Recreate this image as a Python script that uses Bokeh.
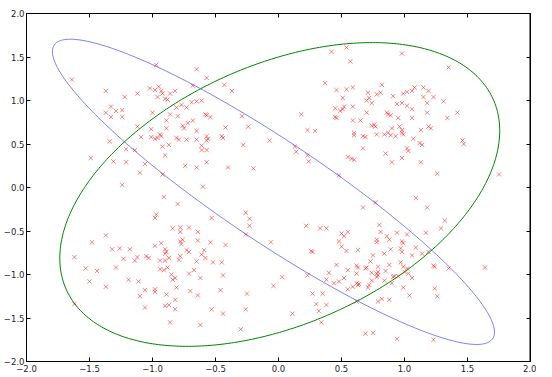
import numpy as np
from bokeh.plotting import figure
from bokeh.models import LinearAxis, FixedTicker, CustomJSTickFormatter, Range1d, Span
from bokeh.embed import file_html
from bokeh.resources import INLINE

# ---- data ----
# upper-left cluster
ul_x = [-1.64,-0.97,-0.65,-1.37,-1.22,-1.12,-1.02,-0.98,-0.95,-0.93,-0.92,-0.96,-0.90,-0.88,-0.86,-0.82,-0.68,
        -1.33,-1.29,-1.24,-1.37,-1.33,-1.24,-1.00,-0.86,-0.81,-0.77,-0.73,-0.69,-0.65,-0.89,-0.80,-0.72,-0.68,-0.76,-0.75,
        -1.12,-1.01,-0.94,-0.93,-0.96,-0.98,-1.01,-0.89,-1.09,-0.81,-0.79,-0.73,-0.65,-0.65,-1.34,-0.92,-0.87,-1.21,-1.14,
        -0.90,-1.49,-1.31,-1.21,-1.06,-0.74,-0.65,-1.10,-0.92,
        -0.57,-0.43,-0.37,-0.61,-0.58,-0.57,-0.54,-0.29,-0.42,-0.24,-0.57,-0.56,-0.57,-0.45,-0.44,-0.07,-0.28,-0.61,-0.61,
        -0.57,-0.57,-0.40,-0.20]
ul_y = [1.24,1.41,1.36,1.11,1.04,1.08,1.14,1.12,1.16,1.11,1.08,1.04,1.02,1.01,1.08,1.11,1.17,
        0.93,0.88,0.89,0.86,0.81,0.81,0.86,0.84,0.92,0.95,0.92,0.98,0.99,0.77,0.82,0.74,0.77,0.71,0.68,
        0.70,0.67,0.61,0.59,0.57,0.56,0.58,0.68,0.58,0.57,0.55,0.55,0.65,0.55,0.53,0.47,0.49,0.44,0.43,
        0.37,0.34,0.30,0.29,0.27,0.25,0.23,0.17,0.15,
        1.26,1.18,1.11,1.00,0.84,0.83,0.81,0.82,0.69,0.70,0.59,0.56,0.54,0.59,0.57,0.54,0.49,0.48,0.43,
        0.43,0.29,0.23,0.22]
# upper-right cluster
ur_x = [0.18,0.23,0.29,0.37,0.42,0.13,0.14,0.23,0.24,
        0.54,0.57,0.98,1.35,0.46,0.54,0.59,0.51,0.82,0.81,0.78,0.71,0.70,0.72,0.74,0.91,0.99,1.02,1.06,1.08,1.15,1.19,
        1.15,1.23,1.31,0.94,0.98,1.02,1.18,0.45,0.49,0.51,0.52,0.59,0.45,0.46,0.70,0.86,0.87,0.89,0.95,1.06,1.06,1.18,
        1.34,1.42,0.59,0.65,0.74,0.76,0.77,0.90,0.96,0.98,0.99,0.98,1.19,1.21,1.13,0.60,0.60,0.67,0.69,0.78,0.84,0.87,
        0.89,0.93,1.07,1.12,1.14,1.46,1.47,0.67,1.02,1.03,0.85,0.55,0.58,0.60,0.98,0.90,1.13,0.48,1.26,1.75]
ur_y = [0.84,0.66,0.65,1.20,1.56,0.47,0.41,0.37,0.30,
        1.61,1.45,1.54,1.38,1.12,1.13,1.15,1.03,1.18,1.09,1.07,1.09,1.00,1.03,0.97,1.05,1.08,1.10,1.11,1.15,1.15,1.11,
        1.04,1.04,0.99,0.96,0.97,0.94,0.97,0.91,0.88,0.90,0.93,0.93,0.81,0.80,0.86,0.86,0.84,0.83,0.80,0.90,0.80,0.86,
        0.80,0.86,0.77,0.77,0.71,0.72,0.70,0.68,0.70,0.66,0.61,0.63,0.70,0.68,0.66,0.63,0.60,0.59,0.58,0.61,0.61,0.63,
        0.60,0.59,0.56,0.51,0.49,0.54,0.50,0.45,0.45,0.42,0.39,0.35,0.33,0.32,0.34,0.29,0.29,0.14,0.16,0.15]
# lower-left cluster
ll_x = [-1.24,-0.91,-0.80,-0.97,-0.98,-0.84,-0.78,-0.78,-0.71,-0.64,-1.37,-1.48,-0.98,-0.93,-0.78,-0.76,-0.77,-0.64,
        -1.32,-1.26,-1.18,-0.90,-0.89,-0.90,-0.73,-0.71,-1.62,-1.12,-1.14,-1.05,-1.03,-0.94,-0.90,-0.87,-0.78,-0.79,
        -0.65,-1.23,-1.53,-1.44,-1.29,-0.94,-0.91,-0.88,-0.71,-0.67,-0.85,-0.82,-0.84,-1.50,-1.19,-1.11,-1.37,-0.81,
        -1.06,-0.98,-0.98,-0.70,-0.64,-1.10,-0.89,-0.82,-1.62,-0.90,-0.87,-0.82,-1.06,-0.86,-0.62,
        -0.60,-0.26,-0.23,-0.23,-0.53,-0.26,-0.06,-0.54,-0.42,-0.59,-0.61,-0.58,-0.52,-0.45,-0.44,-0.62,-0.46,-0.25,
        -0.53,-0.44,-0.26,0.03,-0.04,0.11,-0.30]
ll_y = [0.03,-0.11,-0.19,-0.31,-0.35,-0.47,-0.46,-0.51,-0.46,-0.51,-0.55,-0.63,-0.67,-0.64,-0.62,-0.60,-0.65,-0.61,
        -0.71,-0.70,-0.71,-0.71,-0.74,-0.76,-0.72,-0.74,-0.80,-0.80,-0.84,-0.79,-0.81,-0.84,-0.84,-0.81,-0.79,-0.83,
        -0.85,-0.82,-0.93,-0.96,-0.92,-0.94,-0.95,-0.92,-0.99,-0.95,-1.00,-1.04,-1.06,-1.08,-1.06,-1.08,-1.14,-1.15,
        -1.18,-1.17,-1.20,-1.19,-1.24,-1.25,-1.23,-1.29,-1.34,-1.36,-1.35,-1.40,-1.38,-1.55,-1.58,
        0.01,-0.29,-0.36,-0.44,-0.35,-0.54,-0.63,-0.63,-0.66,-0.72,-0.77,-0.81,-0.86,-0.86,-1.01,-1.04,-1.18,-1.22,
        -1.40,-1.45,-1.40,-1.03,-1.13,-1.45,-1.63]
# lower-right cluster
lr_x = [0.22,0.33,0.38,0.26,0.27,0.23,0.27,0.35,0.30,0.38,0.32,0.46,0.40,0.38,0.44,0.48,0.52,0.55,0.50,0.52,0.55,
        0.48,0.50,0.54,0.55,0.34,0.69,0.75,
        1.09,1.18,0.77,0.67,1.32,1.29,1.17,0.80,0.81,0.94,1.02,0.86,0.88,0.78,0.78,0.98,0.99,1.09,1.19,0.63,0.89,0.97,
        0.98,0.84,1.06,1.14,0.75,0.97,0.73,1.23,1.24,1.35,1.64,0.62,0.63,0.70,0.69,0.79,0.79,0.78,0.79,0.88,0.99,1.02,
        1.00,0.85,1.03,0.62,0.74,0.91,0.92,1.06,0.84,0.74,0.78,0.95,0.90,0.62,0.63,0.64,0.59,0.72,0.71,0.99,1.24,1.04,
        1.26,0.82,0.88,0.79,0.62,0.94,1.23]
lr_y = [-0.44,-0.47,-0.47,-0.73,-0.74,-1.01,-1.22,-1.22,-1.34,-1.35,-1.42,-0.89,-0.98,-1.06,-1.10,-1.08,-1.04,-1.17,
        -0.53,-0.56,-0.51,-0.62,-0.68,-0.73,-0.95,-1.55,-1.68,-1.67,
        -0.12,-0.23,-0.17,-0.23,-0.38,-0.47,-0.52,-0.43,-0.51,-0.52,-0.54,-0.56,-0.60,-0.60,-0.63,-0.62,-0.64,-0.69,
        -0.74,-0.72,-0.71,-0.70,-0.74,-0.76,-0.78,-0.76,-0.78,-0.86,-0.85,-0.90,-0.91,-0.93,-0.92,-0.90,-0.92,-0.92,
        -0.93,-0.91,-0.97,-0.99,-1.01,-0.89,-0.91,-0.93,-0.97,-0.96,-0.99,-0.99,-0.98,-1.03,-1.02,-1.04,-1.07,-1.07,
        -1.03,-1.02,-1.10,-1.10,-1.12,-1.11,-1.14,-1.12,-1.15,-1.15,-1.16,-1.24,-1.25,-1.28,-1.29,-1.31,-1.31,-1.74,-1.75]

# ellipses: centre x, centre y, semi-major, semi-minor, angle (deg)
blue_ellipse = [-0.04, -0.05, 2.43, 0.50, -45.0]
green_ellipse = [0.01, -0.08, 2.08, 1.33, 45.0]

ticks = [-2.0, -1.5, -1.0, -0.5, 0.0, 0.5, 1.0, 1.5, 2.0]


def ellipse_pts(params, n=400):
    cx, cy, a, b, ang = params
    th = np.deg2rad(ang)
    t = np.linspace(0, 2 * np.pi, n)
    x = cx + a * np.cos(th) * np.cos(t) - b * np.sin(th) * np.sin(t)
    y = cy + a * np.sin(th) * np.cos(t) + b * np.cos(th) * np.sin(t)
    return x, y


p = figure(width=536, height=374, output_backend="svg", toolbar_location=None,
           x_range=Range1d(-2, 2), y_range=Range1d(-2, 2),
           min_border_left=18, min_border_right=6, min_border_top=13, min_border_bottom=4)
p.grid.visible = False
p.background_fill_color = "white"
p.border_fill_color = "white"
p.outline_line_color = "black"
p.outline_line_width = 1

fmt = CustomJSTickFormatter(code="""
    var s = Math.abs(tick).toFixed(1);
    return (tick < 0 ? '\\u2212' : '') + s;
""")
for ax in (p.xaxis[0], p.yaxis[0]):
    ax.ticker = FixedTicker(ticks=ticks)
    ax.formatter = fmt
    ax.major_tick_in = 4
    ax.major_tick_out = 0
    ax.minor_tick_line_color = None
    ax.major_label_text_font = "DejaVu Sans"
    ax.major_label_text_font_size = "8.5px"
    ax.major_label_text_color = "#222222"
    ax.axis_line_color = "black"
    ax.major_tick_line_color = "black"
p.yaxis[0].major_label_standoff = 2
p.xaxis[0].major_label_standoff = 3

for loc in ("above", "right"):
    ax = LinearAxis(ticker=FixedTicker(ticks=ticks))
    ax.major_tick_in = 4
    ax.major_tick_out = 0
    ax.minor_tick_line_color = None
    ax.major_label_text_font_size = "0px"
    ax.major_label_standoff = 0
    ax.major_label_text_color = None
    ax.axis_line_color = None
    ax.major_tick_line_color = "black"
    p.add_layout(ax, loc)

# scatter points
xs = ul_x + ur_x + ll_x + lr_x
ys = ul_y + ur_y + ll_y + lr_y
p.scatter(xs, ys, marker="x", size=6, line_color="red", line_alpha=0.5, line_width=1)

bx, by = ellipse_pts(blue_ellipse)
p.line(bx, by, line_color="blue", line_alpha=0.5, line_width=1)
gx, gy = ellipse_pts(green_ellipse)
p.line(gx, gy, line_color="#008000", line_width=1)

p.add_layout(Span(location=2, dimension="height", line_color="black", line_width=2))

open("out.html", "w").write(file_html(p, INLINE))
